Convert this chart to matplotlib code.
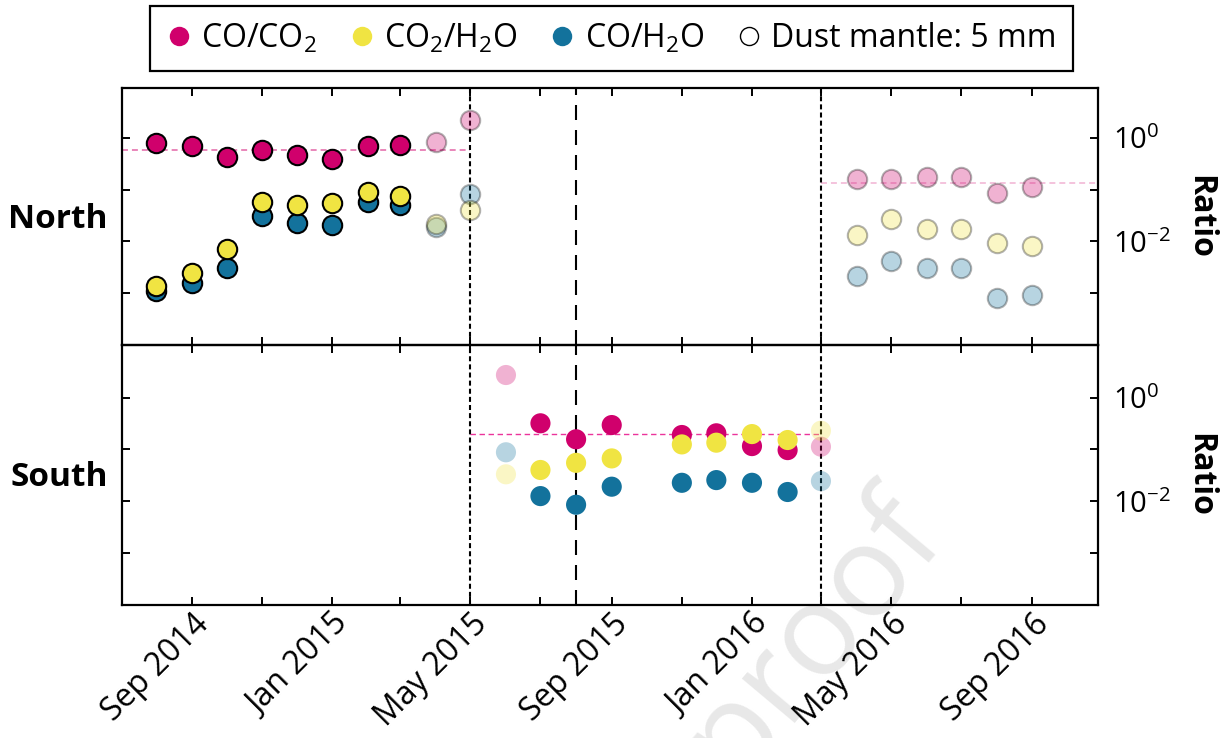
import matplotlib
matplotlib.use("Agg")
import matplotlib.pyplot as plt
import matplotlib.dates as mdates
from matplotlib.lines import Line2D
from matplotlib.ticker import FixedLocator, NullLocator
import pandas as pd

plt.rcParams['font.family'] = ['Open Sans', 'DejaVu Sans']
plt.rcParams['mathtext.fontset'] = 'custom'
plt.rcParams['mathtext.rm'] = 'Open Sans'
plt.rcParams['mathtext.it'] = 'Open Sans:italic'
plt.rcParams['mathtext.default'] = 'regular'

# ---------------- data ----------------
series_names = ['CO/CO$_2$', 'CO$_2$/H$_2$O', 'CO/H$_2$O']
series_colors = ['#D0006C', '#F0E442', '#13729C']

# North, inbound (Aug 2014 - Mar 2015)
north_a_dates = ['2014-08-01', '2014-09-01', '2014-10-01', '2014-11-01',
                 '2014-12-01', '2015-01-01', '2015-02-01', '2015-03-01']
north_a_co_co2 = [0.80, 0.68, 0.43, 0.58, 0.46, 0.39, 0.69, 0.72]
north_a_co2_h2o = [0.0014, 0.0025, 0.0071, 0.058, 0.050, 0.054, 0.089, 0.075]
north_a_co_h2o = [0.00108, 0.00157, 0.0030, 0.031, 0.023, 0.021, 0.058, 0.050]

# North, transition months (Apr - May 2015)
north_b_dates = ['2015-04-01', '2015-05-01']
north_b_co_co2 = [0.83, 2.19]
north_b_co2_h2o = [0.022, 0.040]
north_b_co_h2o = [0.019, 0.082]

# North, outbound (Apr - Sep 2016)
north_c_dates = ['2016-04-01', '2016-05-01', '2016-06-01', '2016-07-01',
                 '2016-08-01', '2016-09-01']
north_c_co_co2 = [0.158, 0.158, 0.177, 0.177, 0.087, 0.111]
north_c_co2_h2o = [0.0132, 0.0268, 0.0172, 0.0172, 0.0092, 0.0082]
north_c_co_h2o = [0.0021, 0.0041, 0.0031, 0.0031, 0.00081, 0.00093]

# South, main season (Jul 2015 - Feb 2016)
south_a_dates = ['2015-07-01', '2015-08-01', '2015-09-01', '2015-11-01',
                 '2015-12-01', '2016-01-01', '2016-02-01']
south_a_co_co2 = [0.32, 0.157, 0.296, 0.190, 0.205, 0.116, 0.097]
south_a_co2_h2o = [0.040, 0.055, 0.067, 0.125, 0.135, 0.198, 0.152]
south_a_co_h2o = [0.0125, 0.0085, 0.019, 0.0226, 0.0255, 0.0226, 0.0150]

# South, edge months (Jun 2015, Mar 2016)
south_b_dates = ['2015-06-01', '2016-03-01']
south_b_co_co2 = [2.75, 0.113]
south_b_co2_h2o = [0.033, 0.230]
south_b_co_h2o = [0.088, 0.0244]

# mean CO/CO2 levels per season
north_in_mean = 0.58
north_out_mean = 0.136
south_mean = 0.196

# season boundaries
equinox_1 = '2015-05-01'
perihelion = '2015-08-01'
equinox_2 = '2016-03-01'

x_start, x_end = '2014-07-02', '2016-10-28'

# ---------------- figure ----------------
W, H = 1223, 738
fig = plt.figure(figsize=(W / 100, H / 100), dpi=100)
fig.patch.set_facecolor('white')

def fx(px):
    return px / W

def fy(py):
    return 1 - py / H

left, right = fx(122), fx(1098)
ax_n = fig.add_axes([left, fy(345), right - left, fy(88) - fy(345)])
ax_s = fig.add_axes([left, fy(605), right - left, fy(345) - fy(605)])

d = pd.to_datetime
x_lo, x_hi = mdates.date2num(d(x_start)), mdates.date2num(d(x_end))

S_N = 195
S_S = 210
FADE = 0.3


def plot_group(ax, dates, vals, edge, alpha, size):
    x = d(dates)
    for key in (2, 0, 1):
        ax.scatter(x, vals[key], s=size, color=series_colors[key],
                   edgecolors='black' if edge else 'none',
                   linewidths=1.5 if edge else 0, alpha=alpha, zorder=4)


plot_group(ax_n, north_a_dates, [north_a_co_co2, north_a_co2_h2o, north_a_co_h2o], True, 1.0, S_N)
plot_group(ax_n, north_b_dates, [north_b_co_co2, north_b_co2_h2o, north_b_co_h2o], True, FADE, S_N)
plot_group(ax_n, north_c_dates, [north_c_co_co2, north_c_co2_h2o, north_c_co_h2o], True, FADE, S_N)
plot_group(ax_s, south_a_dates, [south_a_co_co2, south_a_co2_h2o, south_a_co_h2o], False, 1.0, S_S)
plot_group(ax_s, south_b_dates, [south_b_co_co2, south_b_co2_h2o, south_b_co_h2o], False, FADE, S_S)

# mean levels
ax_n.hlines(north_in_mean, x_lo, mdates.date2num(d(equinox_1)), colors='#D0006C',
            alpha=0.6, linewidth=1.1, linestyles=(0, (3.9, 2.6)), zorder=2)
ax_n.hlines(north_out_mean, mdates.date2num(d(equinox_2)), x_hi, colors='#D0006C',
            alpha=0.3, linewidth=1.1, linestyles=(0, (3.9, 2.6)), zorder=2)
ax_s.hlines(south_mean, mdates.date2num(d(equinox_1)), mdates.date2num(d(equinox_2)),
            colors='#E8108A', alpha=0.85, linewidth=1.0, linestyles=(0, (3.9, 2.6)), zorder=2)

for ax in (ax_n, ax_s):
    ax.axvline(d(equinox_1), color='black', lw=1.5, ls=(0, (2.4, 1.5)), zorder=3)
    ax.axvline(d(equinox_2), color='black', lw=1.5, ls=(0, (2.4, 1.5)), zorder=3)
    ax.axvline(d(perihelion), color='black', lw=1.5, ls=(0, (7.2, 4.8)), zorder=3)

    ax.set_yscale('log')
    ax.set_xlim(x_lo, x_hi)
    ax.patch.set_visible(False)
    for sp in ax.spines.values():
        sp.set_linewidth(1.6)
    ax.yaxis.set_major_locator(FixedLocator([1e-3, 1e-2, 1e-1, 1e0]))
    ax.yaxis.set_minor_locator(NullLocator())
    ax.set_yticklabels(['', '$10^{-2}$', '', '$10^{0}$'])
    ax.yaxis.tick_right()
    ax.tick_params(axis='y', which='both', direction='in', left=True, right=True,
                   labelleft=False, labelright=True, length=6, width=1.4,
                   labelsize=21, pad=11)
    ax.xaxis.set_major_locator(mdates.MonthLocator(bymonth=[1, 5, 9]))
    ax.xaxis.set_minor_locator(mdates.MonthLocator(bymonth=[3, 7, 11]))
    ax.xaxis.set_major_formatter(mdates.DateFormatter('%b %Y'))
    ax.tick_params(axis='x', which='both', direction='in', top=True, bottom=True,
                   length=6, width=1.4, labelsize=23, pad=2)
    ax.text(1.1045, 0.5, 'Ratio', transform=ax.transAxes, rotation=270,
            ha='center', va='center', fontsize=23, fontweight='bold')

ax_n.set_ylim(1e-4, 10 ** 0.96)
ax_s.set_ylim(10 ** -4.01, 10 ** 1.02)
ax_n.tick_params(axis='x', labelbottom=False)
for lab in ax_s.get_xticklabels():
    lab.set_rotation(45)
    lab.set_ha('right')
    lab.set_va('top')
    lab.set_rotation_mode('anchor')

ax_n.text(-0.0145, 0.49, 'North', transform=ax_n.transAxes, ha='right',
          va='center', fontsize=24, fontweight='bold')
ax_s.text(-0.0145, 0.49, 'South', transform=ax_s.transAxes, ha='right',
          va='center', fontsize=24, fontweight='bold')

# legend
handles = [Line2D([], [], ls='none', marker='o', markersize=14, markerfacecolor=c,
                  markeredgecolor='none') for c in series_colors]
handles.append(Line2D([], [], ls='none', marker='o', markersize=13, markerfacecolor='white',
                      markeredgecolor='black', markeredgewidth=1.0))
labels = series_names + ['Dust mantle: 5 mm']
leg = fig.legend(handles, labels, loc='upper center', bbox_to_anchor=(0.5, fy(6)),
                 ncol=4, fontsize=23, frameon=True, fancybox=False, framealpha=1,
                 edgecolor='black', handlelength=0.8, handletextpad=0.3,
                 columnspacing=1.0, borderpad=0.5, borderaxespad=0.0)
leg.get_frame().set_linewidth(1.6)

# watermark
fig.text(fx(952), fy(548), 'Journal Pre-proof', rotation=50, rotation_mode='anchor',
         ha='right', va='baseline', fontsize=92, color='#e8e8e8', zorder=-1)

fig.savefig('out.png', dpi=100, facecolor='white')
